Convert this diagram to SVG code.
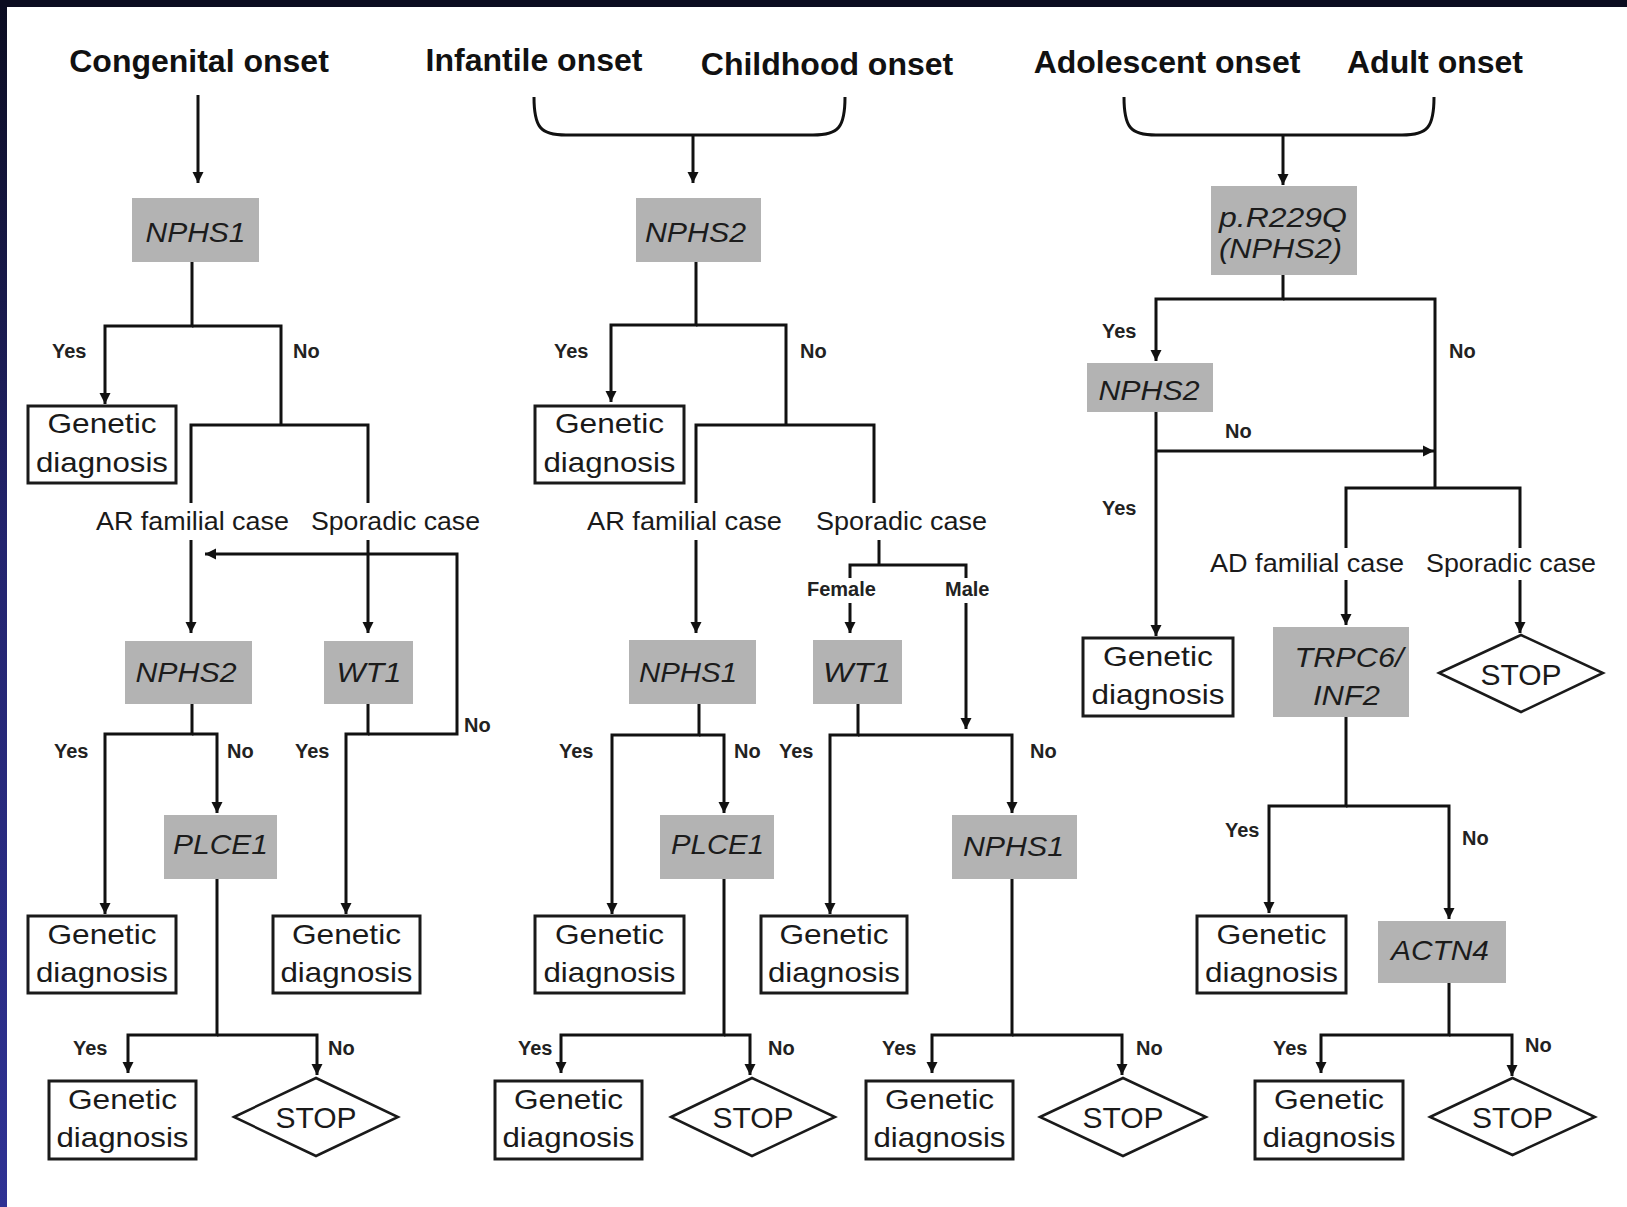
<svg xmlns="http://www.w3.org/2000/svg" width="1627" height="1207" viewBox="0 0 1627 1207">
<defs>
<linearGradient id="lb" x1="0" y1="0" x2="0" y2="1">
<stop offset="0" stop-color="#0b0c20"/>
<stop offset="0.45" stop-color="#23246e"/>
<stop offset="1" stop-color="#2f3294"/>
</linearGradient>
<marker id="ah" markerUnits="userSpaceOnUse" markerWidth="12" markerHeight="12" refX="11" refY="6" orient="auto">
<path d="M0,0.5 L11,6 L0,11.5 z" fill="#111"/>
</marker>
<style>
.h{font-family:"Liberation Sans",Arial,sans-serif;font-weight:bold;font-size:32px;fill:#111;text-anchor:middle}
.g{fill:#b3b3b3}
.gt{font-family:"Liberation Sans",Arial,sans-serif;font-style:italic;font-size:28px;fill:#1c1c1c;text-anchor:middle}
.b{fill:#fff;stroke:#1a1a1a;stroke-width:3}
.bt{font-family:"Liberation Sans",Arial,sans-serif;font-size:28px;fill:#1a1a1a;text-anchor:middle}
.d{fill:#fff;stroke:#1a1a1a;stroke-width:2.5}
.st{font-family:"Liberation Sans",Arial,sans-serif;font-size:30px;fill:#1a1a1a;text-anchor:middle}
.l{font-family:"Liberation Sans",Arial,sans-serif;font-weight:bold;font-size:20px;fill:#222}
.c{font-family:"Liberation Sans",Arial,sans-serif;font-size:26px;fill:#1a1a1a}
.w{fill:none;stroke:#111;stroke-width:3}
.a{fill:none;stroke:#111;stroke-width:3;marker-end:url(#ah)}
</style>
</defs>
<rect x="0" y="0" width="1627" height="1207" fill="#fff"/>
<rect x="0" y="0" width="7" height="1207" fill="url(#lb)"/>
<rect x="0" y="0" width="1627" height="7" fill="#0b0c20"/>

<g id="headings">
<text class="h" x="199" y="72">Congenital onset</text>
<text class="h" x="534" y="71">Infantile onset</text>
<text class="h" x="827" y="75">Childhood onset</text>
<text class="h" x="1167" y="73">Adolescent onset</text>
<text class="h" x="1435" y="73">Adult onset</text>
</g>

<g id="connectors">
<path class="a" d="M198,95 V183"/>
<path class="a" d="M192,262 V326 H105 V404"/>
<path class="w" d="M192,326 H281 V425"/>
<path class="w" d="M191,503 V425 H368 V503"/>
<path class="a" d="M191,540 V633"/>
<path class="a" d="M368,540 V633"/>
<path class="a" d="M192,704 V734 H105 V914"/>
<path class="a" d="M192,734 H217 V813"/>
<path class="a" d="M368,704 V734 H346 V914"/>
<path class="a" d="M368,734 H457 V554 H205"/>
<path class="a" d="M217,879 V1035 H128 V1073"/>
<path class="a" d="M217,1035 H317 V1075"/>

<path class="w" d="M534,97 C534,127 540,135 566,135 H813 C839,135 845,127 845,97"/>
<path class="a" d="M693,135 V183"/>
<path class="a" d="M696,262 V325 H611 V402"/>
<path class="w" d="M696,325 H786 V425"/>
<path class="w" d="M696,503 V425 H874 V503"/>
<path class="a" d="M696,540 V633"/>
<path class="w" d="M879,540 V565"/>
<path class="w" d="M850,578 V565 H966 V578"/>
<path class="a" d="M850,603 V633"/>
<path class="a" d="M966,603 V729"/>
<path class="a" d="M699,704 V735 H612 V914"/>
<path class="a" d="M699,735 H724 V813"/>
<path class="a" d="M858,704 V735 H830 V914"/>
<path class="a" d="M858,735 H1012 V813"/>
<path class="a" d="M724,879 V1035 H561 V1073"/>
<path class="a" d="M724,1035 H750 V1075"/>
<path class="a" d="M1012,879 V1035 H932 V1073"/>
<path class="a" d="M1012,1035 H1122 V1075"/>

<path class="w" d="M1124,97 C1124,127 1130,135 1156,135 H1402 C1428,135 1434,127 1434,97"/>
<path class="a" d="M1283,135 V185"/>
<path class="a" d="M1283,275 V299 H1156 V361"/>
<path class="w" d="M1283,299 H1435 V488"/>
<path class="a" d="M1156,412 V636"/>
<path class="a" d="M1156,451 H1434"/>
<path class="w" d="M1346,548 V488 H1520 V548"/>
<path class="a" d="M1346,580 V625"/>
<path class="a" d="M1520,580 V633"/>
<path class="a" d="M1346,717 V806 H1269 V913"/>
<path class="a" d="M1346,806 H1449 V919"/>
<path class="a" d="M1449,983 V1035 H1321 V1073"/>
<path class="a" d="M1449,1035 H1512 V1076"/>
</g>

<g id="labels">
<text class="l" x="52" y="358">Yes</text>
<text class="l" x="293" y="358">No</text>
<text class="c" x="96" y="530" textLength="193" lengthAdjust="spacingAndGlyphs">AR familial case</text>
<text class="c" x="311" y="530" textLength="169" lengthAdjust="spacingAndGlyphs">Sporadic case</text>
<text class="l" x="464" y="732">No</text>
<text class="l" x="54" y="758">Yes</text>
<text class="l" x="227" y="758">No</text>
<text class="l" x="295" y="758">Yes</text>
<text class="l" x="73" y="1055">Yes</text>
<text class="l" x="328" y="1055">No</text>

<text class="l" x="554" y="358">Yes</text>
<text class="l" x="800" y="358">No</text>
<text class="c" x="587" y="530" textLength="195" lengthAdjust="spacingAndGlyphs">AR familial case</text>
<text class="c" x="816" y="530" textLength="171" lengthAdjust="spacingAndGlyphs">Sporadic case</text>
<text class="l" x="807" y="596">Female</text>
<text class="l" x="945" y="596">Male</text>
<text class="l" x="559" y="758">Yes</text>
<text class="l" x="734" y="758">No</text>
<text class="l" x="779" y="758">Yes</text>
<text class="l" x="1030" y="758">No</text>
<text class="l" x="518" y="1055">Yes</text>
<text class="l" x="768" y="1055">No</text>
<text class="l" x="882" y="1055">Yes</text>
<text class="l" x="1136" y="1055">No</text>

<text class="l" x="1102" y="338">Yes</text>
<text class="l" x="1449" y="358">No</text>
<text class="l" x="1225" y="438">No</text>
<text class="l" x="1102" y="515">Yes</text>
<text class="c" x="1210" y="572" textLength="194" lengthAdjust="spacingAndGlyphs">AD familial case</text>
<text class="c" x="1426" y="572" textLength="170" lengthAdjust="spacingAndGlyphs">Sporadic case</text>
<text class="l" x="1225" y="837">Yes</text>
<text class="l" x="1462" y="845">No</text>
<text class="l" x="1273" y="1055">Yes</text>
<text class="l" x="1525" y="1052">No</text>
</g>

<g id="c1-nphs1"><rect class="g" x="132" y="198" width="127" height="64"/><text class="gt" x="195.5" y="242" textLength="100" lengthAdjust="spacingAndGlyphs">NPHS1</text></g>
<g id="c1-gd1"><rect class="b" x="28" y="406" width="148" height="77"/><text class="bt" x="102" y="433" textLength="109" lengthAdjust="spacingAndGlyphs">Genetic</text><text class="bt" x="102" y="472" textLength="132" lengthAdjust="spacingAndGlyphs">diagnosis</text></g>
<g id="c1-nphs2"><rect class="g" x="125" y="641" width="127" height="63"/><text class="gt" x="186" y="682" textLength="101" lengthAdjust="spacingAndGlyphs">NPHS2</text></g>
<g id="c1-wt1"><rect class="g" x="324" y="641" width="89" height="63"/><text class="gt" x="369" y="682" textLength="65" lengthAdjust="spacingAndGlyphs">WT1</text></g>
<g id="c1-plce1"><rect class="g" x="164" y="815" width="113" height="64"/><text class="gt" x="220.5" y="854" textLength="95" lengthAdjust="spacingAndGlyphs">PLCE1</text></g>
<g id="c1-gd2"><rect class="b" x="28" y="916" width="148" height="77"/><text class="bt" x="102" y="944" textLength="109" lengthAdjust="spacingAndGlyphs">Genetic</text><text class="bt" x="102" y="982" textLength="132" lengthAdjust="spacingAndGlyphs">diagnosis</text></g>
<g id="c1-gd3"><rect class="b" x="273" y="916" width="147" height="77"/><text class="bt" x="346.5" y="944" textLength="109" lengthAdjust="spacingAndGlyphs">Genetic</text><text class="bt" x="346.5" y="982" textLength="132" lengthAdjust="spacingAndGlyphs">diagnosis</text></g>
<g id="c1-gd4"><rect class="b" x="49" y="1081" width="147" height="78"/><text class="bt" x="122.5" y="1109" textLength="109" lengthAdjust="spacingAndGlyphs">Genetic</text><text class="bt" x="122.5" y="1147" textLength="132" lengthAdjust="spacingAndGlyphs">diagnosis</text></g>
<g id="c1-stop"><polygon class="d" points="234,1117 316,1078 398,1117 316,1156"/><text class="st" x="316" y="1128">STOP</text></g>

<g id="c2-nphs2"><rect class="g" x="636" y="198" width="125" height="64"/><text class="gt" x="695.5" y="242" textLength="101" lengthAdjust="spacingAndGlyphs">NPHS2</text></g>
<g id="c2-gd1"><rect class="b" x="535" y="406" width="149" height="77"/><text class="bt" x="609.5" y="433" textLength="109" lengthAdjust="spacingAndGlyphs">Genetic</text><text class="bt" x="609.5" y="472" textLength="132" lengthAdjust="spacingAndGlyphs">diagnosis</text></g>
<g id="c2-nphs1"><rect class="g" x="629" y="640" width="127" height="64"/><text class="gt" x="688" y="682" textLength="98" lengthAdjust="spacingAndGlyphs">NPHS1</text></g>
<g id="c2-wt1"><rect class="g" x="813" y="640" width="89" height="64"/><text class="gt" x="857" y="682" textLength="68" lengthAdjust="spacingAndGlyphs">WT1</text></g>
<g id="c2-plce1"><rect class="g" x="660" y="815" width="114" height="64"/><text class="gt" x="717.5" y="854" textLength="93" lengthAdjust="spacingAndGlyphs">PLCE1</text></g>
<g id="c2-nphs1b"><rect class="g" x="952" y="815" width="125" height="64"/><text class="gt" x="1013.5" y="856" textLength="101" lengthAdjust="spacingAndGlyphs">NPHS1</text></g>
<g id="c2-gd2"><rect class="b" x="535" y="916" width="149" height="77"/><text class="bt" x="609.5" y="944" textLength="109" lengthAdjust="spacingAndGlyphs">Genetic</text><text class="bt" x="609.5" y="982" textLength="132" lengthAdjust="spacingAndGlyphs">diagnosis</text></g>
<g id="c2-gd3"><rect class="b" x="761" y="916" width="146" height="77"/><text class="bt" x="834" y="944" textLength="109" lengthAdjust="spacingAndGlyphs">Genetic</text><text class="bt" x="834" y="982" textLength="132" lengthAdjust="spacingAndGlyphs">diagnosis</text></g>
<g id="c2-gd4"><rect class="b" x="495" y="1081" width="147" height="78"/><text class="bt" x="568.5" y="1109" textLength="109" lengthAdjust="spacingAndGlyphs">Genetic</text><text class="bt" x="568.5" y="1147" textLength="132" lengthAdjust="spacingAndGlyphs">diagnosis</text></g>
<g id="c2-stop1"><polygon class="d" points="671,1117 752,1078 835,1117 752,1156"/><text class="st" x="753" y="1128">STOP</text></g>
<g id="c2-gd5"><rect class="b" x="866" y="1081" width="147" height="78"/><text class="bt" x="939.5" y="1109" textLength="109" lengthAdjust="spacingAndGlyphs">Genetic</text><text class="bt" x="939.5" y="1147" textLength="132" lengthAdjust="spacingAndGlyphs">diagnosis</text></g>
<g id="c2-stop2"><polygon class="d" points="1040,1117 1123,1078 1206,1117 1123,1156"/><text class="st" x="1123" y="1128">STOP</text></g>

<g id="c3-r229q"><rect class="g" x="1211" y="186" width="146" height="89"/><text class="gt" x="1283" y="227" textLength="128" lengthAdjust="spacingAndGlyphs">p.R229Q</text><text class="gt" x="1280.5" y="258" textLength="123" lengthAdjust="spacingAndGlyphs">(NPHS2)</text></g>
<g id="c3-nphs2"><rect class="g" x="1087" y="363" width="126" height="49"/><text class="gt" x="1149" y="400" textLength="101" lengthAdjust="spacingAndGlyphs">NPHS2</text></g>
<g id="c3-gd1"><rect class="b" x="1083" y="638" width="150" height="78"/><text class="bt" x="1158" y="666" textLength="110" lengthAdjust="spacingAndGlyphs">Genetic</text><text class="bt" x="1158" y="704" textLength="133" lengthAdjust="spacingAndGlyphs">diagnosis</text></g>
<g id="c3-trpc6"><rect class="g" x="1273" y="627" width="136" height="90"/><text class="gt" x="1349" y="667" textLength="109" lengthAdjust="spacingAndGlyphs">TRPC6/</text><text class="gt" x="1346.5" y="705" textLength="67" lengthAdjust="spacingAndGlyphs">INF2</text></g>
<g id="c3-stop1"><polygon class="d" points="1439,673 1521,635 1603,673 1521,712"/><text class="st" x="1521" y="685">STOP</text></g>
<g id="c3-gd2"><rect class="b" x="1197" y="916" width="149" height="77"/><text class="bt" x="1271.5" y="944" textLength="110" lengthAdjust="spacingAndGlyphs">Genetic</text><text class="bt" x="1271.5" y="982" textLength="133" lengthAdjust="spacingAndGlyphs">diagnosis</text></g>
<g id="c3-actn4"><rect class="g" x="1378" y="921" width="128" height="62"/><text class="gt" x="1440" y="960" textLength="98" lengthAdjust="spacingAndGlyphs">ACTN4</text></g>
<g id="c3-gd3"><rect class="b" x="1255" y="1081" width="148" height="78"/><text class="bt" x="1329" y="1109" textLength="110" lengthAdjust="spacingAndGlyphs">Genetic</text><text class="bt" x="1329" y="1147" textLength="133" lengthAdjust="spacingAndGlyphs">diagnosis</text></g>
<g id="c3-stop2"><polygon class="d" points="1430,1117 1512.5,1078 1595,1117 1512.5,1155"/><text class="st" x="1512.5" y="1128">STOP</text></g>
</svg>
